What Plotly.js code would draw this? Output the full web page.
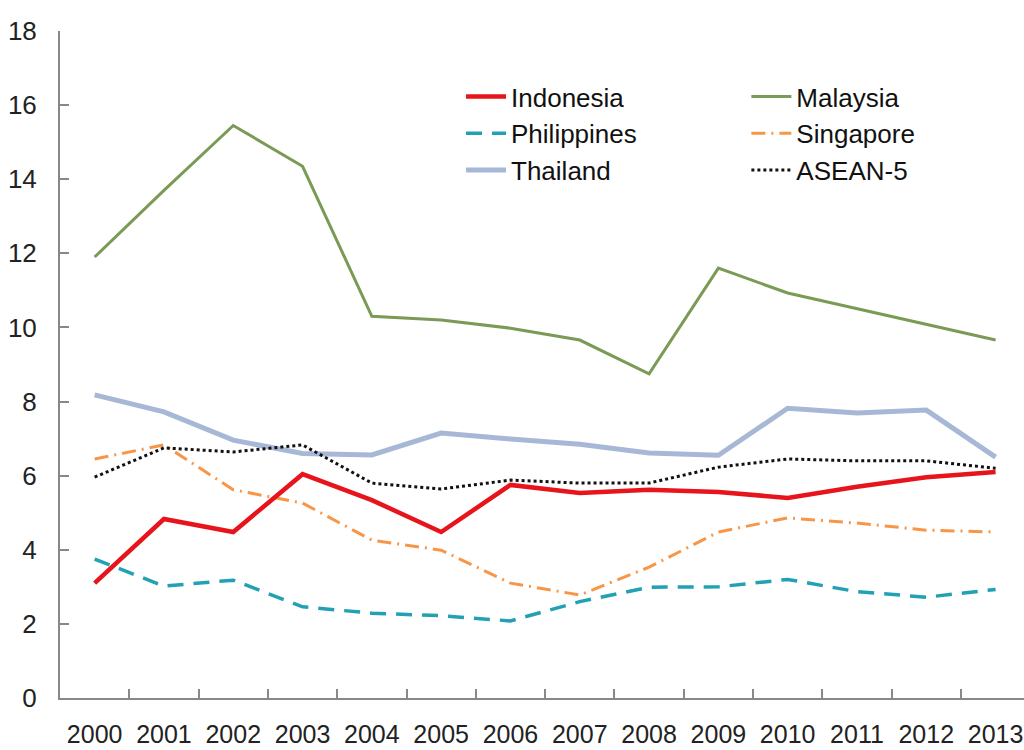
<!DOCTYPE html>
<html>
<head>
<meta charset="utf-8">
<script src="https://cdn.plot.ly/plotly-3.0.1.min.js"></script>
<style>html,body{margin:0;padding:0;background:#fff;}#chart{width:1024px;height:750px;}</style>
</head>
<body>
<div id="chart"></div>
<script>
const years = ['2000','2001','2002','2003','2004','2005','2006','2007','2008','2009','2010','2011','2012','2013'];
const indonesia   = [3.1, 4.83, 4.48, 6.04, 5.34, 4.48, 5.75, 5.53, 5.62, 5.56, 5.4, 5.7, 5.96, 6.1];
const malaysia    = [11.9, 13.7, 15.45, 14.35, 10.3, 10.2, 9.98, 9.66, 8.75, 11.6, 10.93, 10.5, 10.08, 9.66];
const philippines = [3.75, 3.02, 3.18, 2.46, 2.29, 2.22, 2.08, 2.6, 2.99, 3.0, 3.2, 2.87, 2.72, 2.93];
const singapore   = [6.45, 6.83, 5.62, 5.26, 4.26, 3.99, 3.1, 2.78, 3.53, 4.48, 4.86, 4.72, 4.53, 4.48];
const thailand    = [8.18, 7.72, 6.96, 6.6, 6.56, 7.15, 6.99, 6.85, 6.61, 6.55, 7.82, 7.69, 7.77, 6.5];
const asean5      = [5.96, 6.75, 6.64, 6.83, 5.8, 5.64, 5.88, 5.8, 5.8, 6.23, 6.45, 6.4, 6.4, 6.2];

const font = '"Liberation Sans", Arial, sans-serif';

function tr(name, y, color, width, dash, legend, rank) {
  return {
    x: years, y: y, name: name, type: 'scatter', mode: 'lines',
    line: {color: color, width: width, dash: dash},
    legend: legend, legendgroup: name, legendrank: rank
  };
}

const data = [
  tr('Thailand', thailand, '#a7b8d6', 5, 'solid', 'legend', 3),
  tr('Malaysia', malaysia, '#7a9a55', 3, 'solid', 'legend2', 1),
  tr('Singapore', singapore, '#f79646', 3, '14px,6px,2px,6px', 'legend2', 2),
  tr('Philippines', philippines, '#21a1b3', 3.5, '16px,10px', 'legend', 2),
  tr('ASEAN-5', asean5, '#111111', 3, 'dot', 'legend2', 3),
  tr('Indonesia', indonesia, '#e8141b', 4.5, 'solid', 'legend', 1)
];

const legFont = {family: font, size: 26, color: '#111'};

const layout = {
  width: 1024, height: 750,
  margin: {l: 60, r: 0, t: 31, b: 52},
  paper_bgcolor: '#fff', plot_bgcolor: '#fff',
  showlegend: true,
  xaxis: {
    type: 'category', range: [-0.5, 13.41],
    tickson: 'boundaries', ticks: 'inside', ticklen: 9, tickwidth: 2, tickcolor: '#888',
    showline: true, linecolor: '#888', linewidth: 2,
    showgrid: false, zeroline: false, tickangle: 0,
    tickfont: {family: font, size: 25, color: '#222'},
    ticklabelstandoff: 13
  },
  yaxis: {
    range: [0, 18], dtick: 2, tick0: 0,
    ticks: 'inside', ticklen: 9, tickwidth: 2, tickcolor: '#888',
    showline: true, linecolor: '#888', linewidth: 2,
    showgrid: false, zeroline: false,
    tickfont: {family: font, size: 26, color: '#222'},
    ticklabelstandoff: 16
  },
  legend: {
    x: 0.416, y: 0.937, xanchor: 'left', yanchor: 'top',
    bgcolor: 'rgba(0,0,0,0)', font: legFont,
    traceorder: 'grouped', tracegroupgap: 0, itemwidth: 40
  },
  legend2: {
    x: 0.712, y: 0.937, xanchor: 'left', yanchor: 'top',
    bgcolor: 'rgba(0,0,0,0)', font: legFont,
    traceorder: 'grouped', tracegroupgap: 0, itemwidth: 40
  }
};

Plotly.newPlot('chart', data, layout, {staticPlot: true, displayModeBar: false});
</script>
</body>
</html>
